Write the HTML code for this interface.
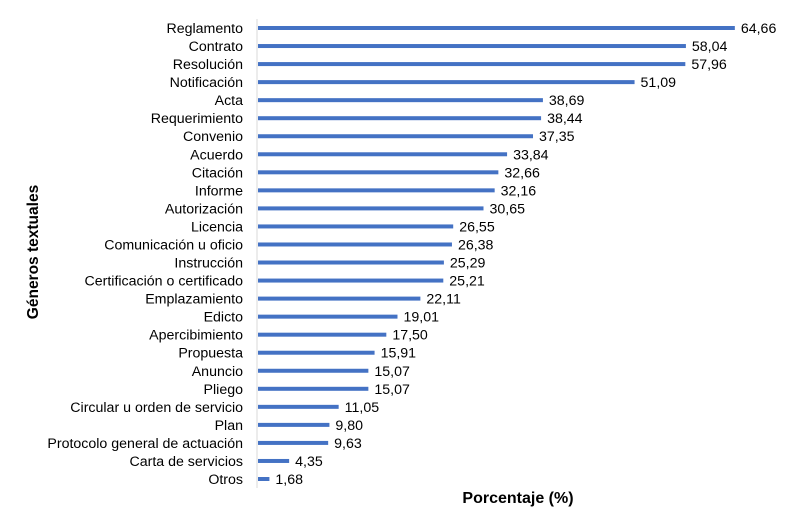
<!DOCTYPE html>
<html><head><meta charset="utf-8">
<style>
body{margin:0;background:#fff;}
svg{display:block;font-family:"Liberation Sans",Arial,sans-serif;}
</style></head>
<body>
<svg id="chart" width="800" height="531">
<line x1="257" y1="19" x2="257" y2="488" stroke="#d9d9d9" stroke-width="1"/>
<g id="bars"></g>
<text x="38" y="252" transform="rotate(-90 38 252)" text-anchor="middle" font-size="15.5" font-weight="bold" fill="#000">Géneros textuales</text>
<text x="518" y="503" text-anchor="middle" font-size="16" font-weight="bold" fill="#000">Porcentaje (%)</text>
</svg>
<script>
const categories=["Reglamento","Contrato","Resolución","Notificación","Acta","Requerimiento","Convenio","Acuerdo","Citación","Informe","Autorización","Licencia","Comunicación u oficio","Instrucción","Certificación o certificado","Emplazamiento","Edicto","Apercibimiento","Propuesta","Anuncio","Pliego","Circular u orden de servicio","Plan","Protocolo general de actuación","Carta de servicios","Otros"];
const values=[64.66,58.04,57.96,51.09,38.69,38.44,37.35,33.84,32.66,32.16,30.65,26.55,26.38,25.29,25.21,22.11,19.01,17.50,15.91,15.07,15.07,11.05,9.80,9.63,4.35,1.68];
const x0=257,scale=7.39,y0=28,step=18.04;
const xs=v=>x0+v*scale;
const ys=i=>y0+i*step;
const g=document.getElementById('bars');
const NS='http://www.w3.org/2000/svg';
categories.forEach((c,i)=>{
  const y=ys(i);
  const r=document.createElementNS(NS,'rect');
  r.setAttribute('x',x0+1);r.setAttribute('y',y-2);
  r.setAttribute('width',Math.max(0,xs(values[i])-x0-1));r.setAttribute('height',4);
  r.setAttribute('fill','#4472c4');
  
  
  g.appendChild(r);
  const t=document.createElementNS(NS,'text');
  t.setAttribute('x',243);t.setAttribute('y',y+5);
  t.setAttribute('text-anchor','end');t.setAttribute('font-size','14.2');
  t.textContent=c;
  
  
  g.appendChild(t);
  const v=document.createElementNS(NS,'text');
  v.setAttribute('x',xs(values[i])+6);v.setAttribute('y',y+5);
  v.setAttribute('font-size','14.2');
  v.textContent=values[i].toFixed(2).replace('.',',');
  
  
  g.appendChild(v);
});
</script>
</body></html>
